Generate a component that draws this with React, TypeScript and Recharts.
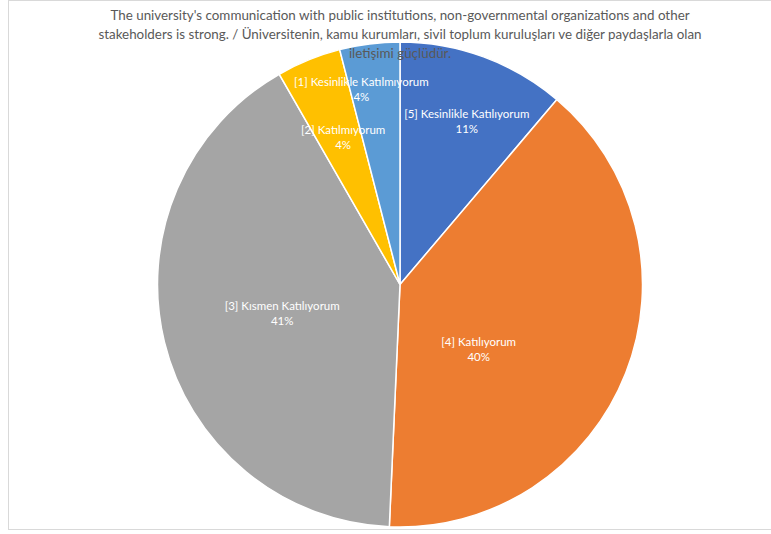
import { PieChart, Pie, Cell } from 'recharts'

// answer categories, clockwise from 12 o'clock
const categories = [
  '[5] Kesinlikle Katılıyorum',
  '[4] Katılıyorum',
  '[3] Kısmen Katılıyorum',
  '[2] Katılmıyorum',
  '[1] Kesinlikle Katılmıyorum',
]
// share of answers, %
const shares = [11.2, 39.5, 41.0, 4.3, 4.0]
const percentLabels = ['11%', '40%', '41%', '4%', '4%']

const titleLines = [
  "The university's communication with public institutions, non-governmental organizations and other",
  'stakeholders is strong. / Üniversitenin, kamu kurumları, sivil toplum kuruluşları ve diğer paydaşlarla olan',
  'iletişimi güçlüdür.',
]

const colors = ['#4472C4', '#ED7D31', '#A5A5A5', '#FFC000', '#5B9BD5']

// label placement like Excel "best fit": fraction of radius + angle shift (deg, clockwise)
const labelPlace = [
  { frac: 0.73, shift: 2 },
  { frac: 0.42, shift: 18 },
  { frac: 0.5, shift: 0 },
  { frac: 0.65, shift: 1 },
  { frac: 0.82, shift: -4 },
]

const FONT = 'Lato, "Open Sans", sans-serif'
const RAD = Math.PI / 180

const data = categories.map((name, i) => ({ name, value: shares[i], pct: percentLabels[i] }))

function renderLabel(props: any) {
  const { cx, cy, midAngle, outerRadius, index } = props
  const p = labelPlace[index]
  const ang = midAngle - p.shift
  const r = outerRadius * p.frac
  const x = cx + r * Math.cos(-ang * RAD)
  const y = cy + r * Math.sin(-ang * RAD)
  return (
    <text x={x} y={y} textAnchor="middle" fill="#ffffff" fontFamily={FONT} fontSize={11.5}>
      <tspan x={x} dy={-3}>{data[index].name}</tspan>
      <tspan x={x} dy={15}>{data[index].pct}</tspan>
    </text>
  )
}

export default function App() {
  return (
    <div style={{ position: 'absolute', left: 0, top: 0, width: 771, height: 534, background: '#fff' }}>
      <div
        style={{
          position: 'absolute',
          left: 8,
          top: 0,
          width: 790,
          height: 528,
          border: '1px solid #d9d9d9',
        }}
      />
      <div style={{ position: 'absolute', left: 0, top: 0 }}>
        <PieChart width={771} height={534} margin={{ top: 0, right: 0, bottom: 0, left: 0 }}>
          <Pie
            data={data}
            dataKey="value"
            nameKey="name"
            cx={400}
            cy={284.5}
            outerRadius={242.5}
            startAngle={90}
            endAngle={-270}
            stroke="#ffffff"
            strokeWidth={1.5}
            label={renderLabel}
            labelLine={false}
            isAnimationActive={false}
          >
            {data.map((d, i) => (
              <Cell key={d.name} fill={colors[i]} />
            ))}
          </Pie>
        </PieChart>
      </div>
      <svg
        width={771}
        height={534}
        style={{ position: 'absolute', left: 0, top: 0, pointerEvents: 'none' }}
      >
        {titleLines.map((line, i) => (
          <text
            key={i}
            x={400}
            y={20 + i * 19}
            textAnchor="middle"
            fill="#595959"
            fontFamily={FONT}
            fontSize={13.4}
          >
            {line}
          </text>
        ))}
      </svg>
    </div>
  )
}
